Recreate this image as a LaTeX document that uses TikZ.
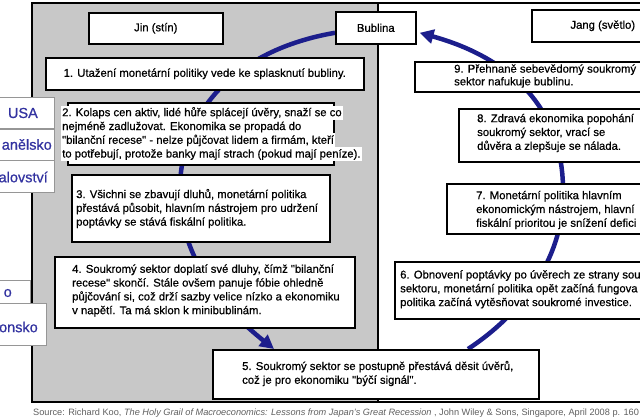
\documentclass[tikz,border=0pt]{standalone}
\usepackage{fontspec}
\setmainfont{Liberation Sans}
\newfontfamily\heavyfont{Liberation Sans}[FakeBold=0.6]
\usetikzlibrary{arrows.meta}
\definecolor{panelgray}{RGB}{200,200,200}
\definecolor{arcblue}{RGB}{28,30,140}
\definecolor{tabblue}{RGB}{50,50,160}
\definecolor{tabedge}{RGB}{150,150,150}
\definecolor{srcgray}{RGB}{95,95,95}
\begin{document}
\begin{tikzpicture}[x=1pt,y=-1pt,
 frameline/.style={line width=1.6pt,black},
 box/.style={draw=black,line width=1.6pt,fill=white,inner sep=0pt,anchor=north west,font=\heavyfont\fontsize{11.3}{13.8}\selectfont},
 body/.style={inner sep=0pt,align=left,anchor=west,font=\heavyfont\fontsize{11.3}{13.8}\selectfont},
 hl/.style={fill=white,inner xsep=1pt,inner ysep=0.5pt,text height=10pt,text depth=3pt,anchor=west,font=\heavyfont\fontsize{11.3}{13.8}\selectfont},
 tab/.style={draw=tabedge,line width=0.8pt,fill=white,inner sep=0pt,anchor=north west},
 tabtxt/.style={inner sep=0pt,anchor=east,text=tabblue,font=\heavyfont\fontsize{14.5}{16}\selectfont},
 cycarrow/.style={draw=arcblue,line width=4.5pt,-{Triangle[length=14pt,width=14pt]}},
]
\useasboundingbox (0,0) rectangle (640,420);
\clip (0,0) rectangle (640,420);
% panels
\fill[panelgray] (32,3) rectangle (378,402);
\draw[frameline] (650,3) -- (32,3) -- (32,402) -- (650,402);
\draw[frameline] (378,3) -- (378,402);
% title boxes
\node[box,minimum width=134pt,minimum height=31pt] (jin) at (88,12) {Jin (stín)};
\node[box,minimum width=80pt,minimum height=32pt] (bub) at (335,11) {Bublina};
\node[box,minimum width=142pt,minimum height=32pt] (jang) at (531,9) {Jang (světlo)};
% box 5 first (for arrow anchors)
\node[box,minimum width=326pt,minimum height=49pt] (b5) at (212,349) {};
% cycle arrows
\draw[cycarrow] ([yshift=-5pt]bub.west) .. controls (235,50) and (178,112) .. (180,195)
  .. controls (181,260) and (225,310) .. ([xshift=62pt]b5.north west);
\draw[cycarrow] ([xshift=256pt]b5.north west) .. controls (520,315) and (563,260) .. (563,195)
  .. controls (565,100) and (500,55) .. ([xshift=3pt,yshift=-5pt]bub.east);
% redraw boxes over arrows
\node[box,minimum width=80pt,minimum height=32pt] (bubtop) at (335,11) {Bublina};
\node[box,minimum width=326pt,minimum height=49pt] (b5top) at (212,349) {};
\node[box,minimum width=318pt,minimum height=32pt] (b1) at (45,57) {1. Utažení monetární politiky vede ke splasknutí bubliny.};
\node[box,minimum width=266pt,minimum height=62pt] (b2) at (67,102) {};
\node[hl] (b2l1) at (61,112.7) {2. Kolaps cen aktiv, lidé hůře splácejí úvěry, snaží se co};
\node[hl] (b2l2) at (61,126.5) {nejméně zadlužovat. Ekonomika se propadá do};
\node[hl] (b2l3) at (61,140.3) {"bilanční recese" - nelze půjčovat lidem a firmám, kteří};
\node[hl] (b2l4) at (61,154) {to potřebují, protože banky mají strach (pokud mají peníze).};
\node[box,minimum width=258pt,minimum height=67pt] (b3) at (71,174) {};
\node[body] (b3t) at (76,208.5) {3. Všichni se zbavují dluhů, monetární politika\\přestává působit, hlavním nástrojem pro udržení\\poptávky se stává fiskální politika.};
\node[box,minimum width=300pt,minimum height=71pt] (b4) at (54,256) {};
\node[body] (b4t) at (72,290.5) {4. Soukromý sektor doplatí své dluhy, čímž "bilanční\\recese" skončí. Stále ovšem panuje fóbie ohledně\\půjčování si, což drží sazby velice nízko a ekonomiku\\v napětí. Ta má sklon k minibublinám.};
\node[body] (b5t) at (242,373.5) {5. Soukromý sektor se postupně přestává děsit úvěrů,\\což je pro ekonomiku "býčí signál".};
\node[box,minimum width=320pt,minimum height=57pt] (b6) at (394,261) {};
\node[body] (b6t) at (400,289.3) {6. Obnovení poptávky po úvěrech ze strany sou\\sektoru, monetární politika opět začíná fungova\\politika začíná vytěsňovat soukromé investice.};
\node[box,minimum width=270pt,minimum height=50pt] (b7) at (446,183) {};
\node[body] (b7t) at (476,210) {7. Monetární politika hlavním\\ekonomickým nástrojem, hlavní\\fiskální prioritou je snížení defici};
\node[box,minimum width=260pt,minimum height=53pt] (b8) at (458,108) {};
\node[body] (b8t) at (477,133) {8. Zdravá ekonomika popohání\\soukromý sektor, vrací se\\důvěra a zlepšuje se nálada.};
\node[box,minimum width=300pt,minimum height=30pt] (b9) at (414,61) {};
\node[body,font=\heavyfont\fontsize{11.3}{12.7}\selectfont] (b9t) at (454,76) {9. Přehnaně sebevědomý soukromý\\sektor nafukuje bublinu.};
% country tabs
\node[tab,minimum width=64pt,minimum height=31pt] (tusa) at (-10,97) {};
\node[tabtxt] (tusat) at (38,113) {USA};
\node[tab,minimum width=64pt,minimum height=31pt] (tspa) at (-10,129) {};
\node[tabtxt] (tspat) at (52,144.5) {anělsko};
\node[tab,minimum width=64pt,minimum height=32pt] (tkra) at (-10,160) {};
\node[tabtxt] (tkrat) at (48,177) {alovství};
\node[tab,minimum width=40pt,minimum height=30pt] (tx) at (-10,280) {};
\node[tabtxt] (txt) at (12,293) {o};
\node[tab,minimum width=56pt,minimum height=42pt] (tjap) at (-10,303) {};
\node[tabtxt] (tjapt) at (38,327) {onsko};
% source
\node[anchor=west,inner sep=0pt,text=srcgray,font=\fontsize{9.2}{10}\selectfont] (src) at (33,413) {Source: Richard Koo, \textit{The Holy Grail of Macroeconomics: Lessons from Japan's Great Recession} , John Wiley \& Sons, Singapore, April 2008 p. 160};
\end{tikzpicture}
\end{document}
